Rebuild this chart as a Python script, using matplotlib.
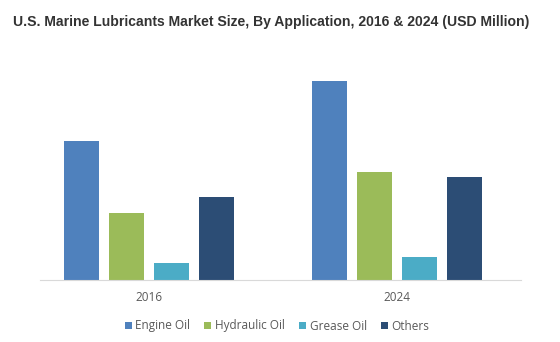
import matplotlib.pyplot as plt
import numpy as np

# data (pixel heights, no y axis shown)
years = ['2016', '2024']
series = ['Engine Oil', 'Hydraulic Oil', 'Grease Oil', 'Others']
engine_oil = [139, 199]
hydraulic_oil = [67, 108]
grease_oil = [17, 23]
others = [83, 103]
colors = ['#4F81BD', '#9BBB59', '#4BACC6', '#2C4D75']

values = [engine_oil, hydraulic_oil, grease_oil, others]

fig = plt.figure(figsize=(5.6, 3.42), dpi=100)
ax = fig.add_axes([40 / 560, 62 / 342, 481 / 560, 220 / 342])

x = np.arange(len(years))
width = 0.141
step = 0.181
for i, (name, vals) in enumerate(zip(series, values)):
    ax.bar(x + (i - 1.5) * step, vals, width, color=colors[i], label=name)

ax.set_xlim(-0.44, 1.5)
ax.set_ylim(0, 220)
ax.set_yticks([])
ax.set_xticks(x)
ax.set_xticklabels(years, fontsize=8.5, color='#595959', family='Open Sans')
ax.tick_params(axis='x', length=0, pad=8)
for side in ['top', 'right', 'left']:
    ax.spines[side].set_visible(False)
ax.spines['bottom'].set_color('#D9D9D9')

fig.text(0.023, 0.935, 'U.S. Marine Lubricants Market Size, By Application, 2016 & 2024 (USD Million)',
         fontsize=10.1, fontweight='bold', color='#333333', family='Liberation Sans', va='center')

fig.legend(loc='center', bbox_to_anchor=(277 / 560, 1 - 326 / 342), ncol=4, frameon=False,
           prop={'family': 'Open Sans', 'size': 8.5}, handlelength=0.6, handleheight=0.6,
           handletextpad=0.3, columnspacing=1.2, labelcolor='#595959')

fig.savefig('out.png', dpi=100, facecolor='white')
